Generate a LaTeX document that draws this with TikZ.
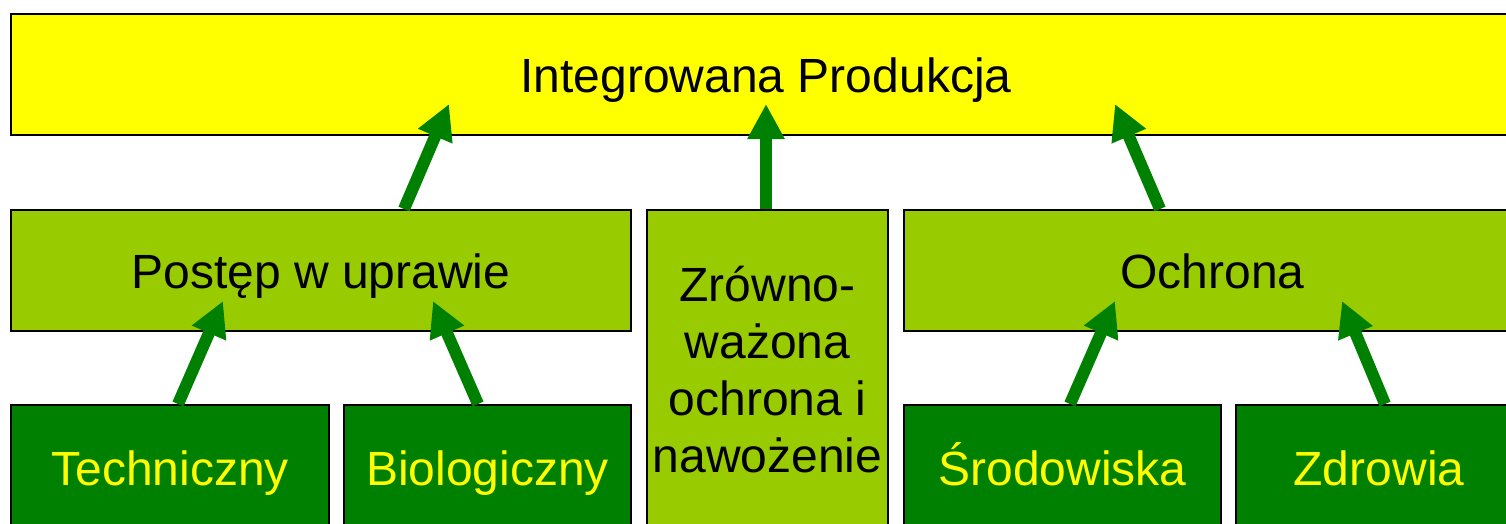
\documentclass[tikz,border=0pt]{standalone}
\usepackage{fontspec}
\setmainfont{Liberation Sans}
\usetikzlibrary{arrows.meta}
\definecolor{topyellow}{HTML}{FFFF00}
\definecolor{lightgreen}{HTML}{99CC00}
\definecolor{darkgreen}{HTML}{008000}
\tikzset{
  box/.style={draw=black, line width=2pt, rectangle, anchor=north west, inner sep=0pt,
    font=\fontsize{48}{57}\selectfont, align=center},
  oneline/.style={text height=40pt, text depth=4pt},
  topbox/.style={box, oneline, fill=topyellow, text=black},
  midbox/.style={box, fill=lightgreen, text=black},
  lowbox/.style={box, oneline, fill=darkgreen, text=topyellow},
  uparrow/.style={draw=darkgreen, line width=12pt, -{Triangle[length=35pt,width=35pt]}, fill=darkgreen}
}
\begin{document}
\begin{tikzpicture}[x=1pt,y=-1pt]
\useasboundingbox (0,0) rectangle (1506,523);
\node[topbox, minimum width=1510pt, minimum height=121pt] (top) at (10,13) {Integrowana Produkcja};
\node[midbox, oneline, minimum width=620pt, minimum height=121pt] (postep) at (10,209) {Postęp w uprawie};
\node[midbox, minimum width=241pt, minimum height=319pt] (zrown) at (646,209) {Zrówno-\\ważona\\ochrona i\\nawożenie};
\node[midbox, oneline, minimum width=617pt, minimum height=121pt] (ochrona) at (903,209) {Ochrona};
\node[lowbox, minimum width=318pt, minimum height=124pt] (tech) at (10,404) {Techniczny};
\node[lowbox, minimum width=287pt, minimum height=124pt] (bio) at (343,404) {Biologiczny};
\node[lowbox, minimum width=317pt, minimum height=124pt] (srod) at (903,404) {Środowiska};
\node[lowbox, minimum width=286pt, minimum height=124pt] (zdro) at (1235,404) {Zdrowia};
% arrow end points
\coordinate (a1s) at (404,209); \coordinate (a1e) at (449,104);
\coordinate (a2s) at (766,209); \coordinate (a2e) at (766,104);
\coordinate (a3s) at (1160,209); \coordinate (a3e) at (1115,104);
\coordinate (b1s) at (178,404); \coordinate (b1e) at (223,301);
\coordinate (b2s) at (478,404); \coordinate (b2e) at (433,301);
\coordinate (c1s) at (1070,404); \coordinate (c1e) at (1115,301);
\coordinate (c2s) at (1385,404); \coordinate (c2e) at (1342,301);
\draw[uparrow] (a1s) -- (a1e);
\draw[uparrow] (a2s) -- (a2e);
\draw[uparrow] (a3s) -- (a3e);
\draw[uparrow] (b1s) -- (b1e);
\draw[uparrow] (b2s) -- (b2e);
\draw[uparrow] (c1s) -- (c1e);
\draw[uparrow] (c2s) -- (c2e);
\end{tikzpicture}
\end{document}
